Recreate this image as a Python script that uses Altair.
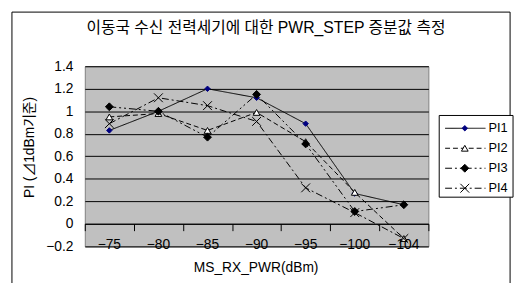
import altair as alt
import pandas as pd

categories = ["−75", "−80", "−85", "−90", "−95", "−100", "−104"]
series_names = ["PI1", "PI2", "PI3", "PI4"]
pi1 = [0.83, 1.00, 1.20, 1.12, 0.89, 0.27, 0.17]
pi2 = [0.95, 0.98, 0.83, 0.99, 0.73, 0.28, -0.13]
pi3 = [1.04, 1.00, 0.77, 1.15, 0.71, 0.11, 0.17]
pi4 = [0.89, 1.12, 1.05, 0.91, 0.32, 0.10, -0.13]
y_ticks = [-0.2, 0, 0.2, 0.4, 0.6, 0.8, 1.0, 1.2, 1.4]

title_text = "이동국 수신 전력세기에 대한 PWR_STEP 증분값 측정"
x_title = "MS_RX_PWR(dBm)"
y_title = "PI (⊿1dBm기준)"

FONT = "'Liberation Sans', 'Noto Sans CJK KR', 'DejaVu Sans'"

rows = []
for name, vals in zip(series_names, [pi1, pi2, pi3, pi4]):
    for c, v in zip(categories, vals):
        rows.append({"series": name, "x": c, "value": v})
df = pd.DataFrame(rows)
cat_df = pd.DataFrame({"x": categories})
legend_df = pd.DataFrame({"series": series_names, "idx": list(range(len(series_names)))})
one = pd.DataFrame({"a": [0]})

dash_scale = alt.Scale(domain=series_names,
                       range=[[1, 0], [5, 3], [7, 3, 2, 3, 2, 3], [7, 3, 2, 3]])
shape_scale = alt.Scale(domain=series_names,
                        range=["diamond", "triangle-up", "diamond", "M-1,-1L1,1M-1,1L1,-1"])
fill_scale = alt.Scale(domain=series_names,
                       range=["#000080", "#ffffff", "#000000", "transparent"])
stroke_scale = alt.Scale(domain=series_names,
                         range=["#000080", "#000000", "#000000", "#000000"])
size_scale = alt.Scale(domain=series_names, range=[30, 80, 12, 36])

x_enc = alt.X("x:N", sort=categories,
              scale=alt.Scale(type="band", paddingInner=0, paddingOuter=0),
              axis=alt.Axis(title=None, offset=-23, domain=True,
                            domainColor="#000000", labels=False,
                            ticks=True, tickSize=7, tickColor="#000000", tickBand="extent",
                            grid=False))
y_enc = alt.Y("value:Q",
              scale=alt.Scale(domain=[-0.2, 1.4], nice=False, zero=False),
              axis=alt.Axis(values=y_ticks, format="~g", title=y_title,
                            domain=False, ticks=False, labelPadding=12,
                            labelOverlap=False, labelBound=False,
                            labelFontSize=14, labelFont=FONT, labelColor="#000000",
                            grid=True, gridColor="#000000", gridWidth=1,
                            titleFont=FONT, titleFontSize=14, titleFontWeight="normal",
                            titleColor="#000000", titleX=-56, titleY=82,
                            titleAngle=-90, titleAlign="center",
                            titleBaseline="middle"))

lines = alt.Chart(df).mark_line(color="#000000", strokeWidth=1).encode(
    x=x_enc, y=y_enc,
    strokeDash=alt.StrokeDash("series:N", scale=dash_scale, legend=None),
    detail="series:N",
)
points = alt.Chart(df).mark_point(opacity=1, strokeWidth=1).encode(
    x=x_enc, y=y_enc,
    shape=alt.Shape("series:N", scale=shape_scale, legend=None),
    fill=alt.Fill("series:N", scale=fill_scale, legend=None),
    stroke=alt.Stroke("series:N", scale=stroke_scale, legend=None),
    size=alt.Size("series:N", scale=size_scale, legend=None),
)
# category labels, placed through the x band scale, inside the plot under the 0 line
x_labels = alt.Chart(cat_df).mark_text(font=FONT, fontSize=14, align="center",
                                       baseline="middle", color="#000000").encode(
    x=x_enc, y=alt.value(182), text="x:N")

frame = alt.Chart(one).mark_rect(fill="transparent", stroke="#000000", strokeWidth=1).encode(
    x=alt.value(-74), x2=alt.value(432), y=alt.value(-55), y2=alt.value(240))
title = alt.Chart(one).mark_text(text=title_text, font=FONT, fontSize=16,
                                 align="center", baseline="middle", color="#000000").encode(
    x=alt.value(184), y=alt.value(-39))
xtitle = alt.Chart(one).mark_text(text=x_title, font=FONT, fontSize=14,
                                  align="center", baseline="middle", color="#000000").encode(
    x=alt.value(174), y=alt.value(205))

# legend rows placed by their index (20.3 px apart, starting 63 px below the plot top)
leg_base = alt.Chart(legend_df).transform_calculate(py="63 + datum.idx * 20.3")
leg_box = alt.Chart(one).mark_rect(fill="#ffffff", stroke="#000000", strokeWidth=1).encode(
    x=alt.value(360), x2=alt.value(435), y=alt.value(50), y2=alt.value(133))
leg_lines = leg_base.mark_rule(color="#000000", strokeWidth=1).encode(
    x=alt.value(366), x2=alt.value(407), y=alt.Y("py:Q", scale=None, axis=None),
    strokeDash=alt.StrokeDash("series:N", scale=dash_scale, legend=None))
leg_pts = leg_base.mark_point(opacity=1, strokeWidth=1).encode(
    x=alt.value(386), y=alt.Y("py:Q", scale=None, axis=None),
    shape=alt.Shape("series:N", scale=shape_scale, legend=None),
    fill=alt.Fill("series:N", scale=fill_scale, legend=None),
    stroke=alt.Stroke("series:N", scale=stroke_scale, legend=None),
    size=alt.Size("series:N", scale=size_scale, legend=None))
leg_text = leg_base.mark_text(font=FONT, fontSize=13, align="left",
                              baseline="middle", color="#000000").encode(
    x=alt.value(410), y=alt.Y("py:Q", scale=None, axis=None), text="series:N")

chart = alt.layer(frame, title, xtitle, lines, points, x_labels,
                  leg_box, leg_lines, leg_pts, leg_text).properties(
    width=349, height=183,
    autosize=alt.AutoSizeParams(type="none"),
    padding={"left": 78, "top": 57, "right": 89, "bottom": 35},
    background="#ffffff",
).configure_view(fill="#C0C0C0", stroke="#808080", strokeWidth=1
).configure_axis(labelOverlap=False)

chart.save("out.html", embed_options={"renderer": "svg", "actions": False})
